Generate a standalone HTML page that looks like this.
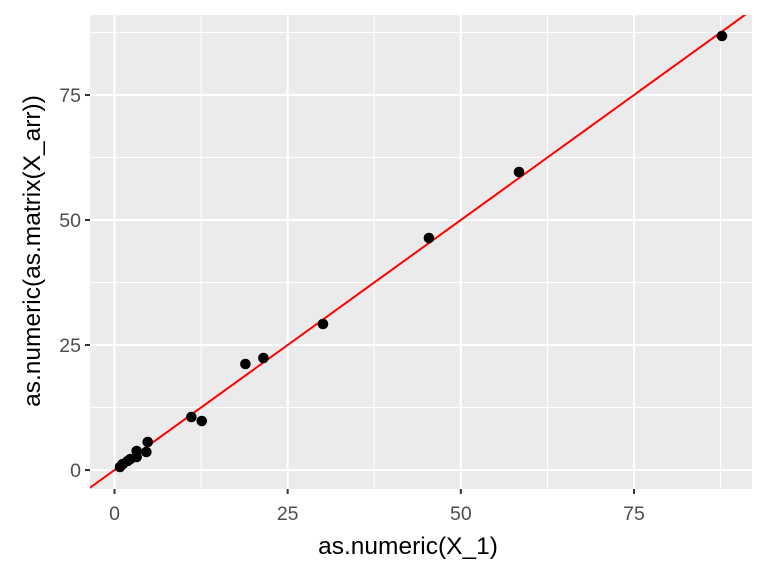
<!DOCTYPE html>
<html><head><meta charset="utf-8"><style>
body{margin:0;background:#fff}
svg text{font-family:"Liberation Sans",sans-serif}
</style></head><body>
<svg id="chart" width="768" height="576" xmlns="http://www.w3.org/2000/svg">
<rect x="90" y="15" width="662" height="474" fill="#ebebeb"/>
<g id="grid"></g><g id="marks"></g><g id="axes"></g>
<text x="408" y="554" font-size="24.5" text-anchor="middle" fill="#000">as.numeric(X_1)</text>
<text transform="translate(40,251) rotate(-90)" font-size="24.5" text-anchor="middle" fill="#000">as.numeric(as.matrix(X_arr))</text>
</svg>
<script>
const xVals=[0.8,1.2,1.9,2.3,3.2,3.2,4.6,4.8,11.1,12.6,18.9,21.5,30.1,45.4,58.4,87.7];
const yVals=[0.6,1.2,1.8,2.2,2.6,3.8,3.6,5.6,10.6,9.8,21.2,22.4,29.2,46.4,59.6,86.8];
const xTicks=[0,25,50,75];
const yTicks=[0,25,50,75];
const lineIntercept=0, lineSlope=1;
const NS="http://www.w3.org/2000/svg";
const X0=90,X1=752,Y0=15,Y1=489;
const xs=v=>114.5+v*(634-114.5)/75;
const ys=v=>470-v*(470-95)/75;
const xinv=p=>(p-114.5)*75/(634-114.5);
function mk(t,a,p){const e=document.createElementNS(NS,t);for(const k in a)e.setAttribute(k,a[k]);p.appendChild(e);return e;}
const grid=document.getElementById('grid'),marks=document.getElementById('marks'),axes=document.getElementById('axes');
const step=12.5;
for(let v=-12.5;v<=100;v+=step){
  const major=(v%25===0);
  const px=xs(v);
  if(px>X0&&px<X1){const l=mk('line',{x1:px,x2:px,y1:Y0,y2:Y1,stroke:'#fff','stroke-width':major?2.1:1},grid);
  
  }
  const py=ys(v);
  if(py>Y0&&py<Y1){const l=mk('line',{x1:X0,x2:X1,y1:py,y2:py,stroke:'#fff','stroke-width':major?2.1:1},grid);
  
  }
}
const cp=mk('clipPath',{id:'cp'},document.getElementById('chart'));
mk('rect',{x:X0,y:Y0,width:X1-X0,height:Y1-Y0},cp);
const ln=mk('line',{x1:X0,y1:ys(lineIntercept+lineSlope*xinv(X0)),x2:X1,y2:ys(lineIntercept+lineSlope*xinv(X1)),stroke:'#ff0000','stroke-width':2,'clip-path':'url(#cp)'},marks);


xVals.forEach((v,i)=>{const c=mk('circle',{cx:xs(v),cy:ys(yVals[i]),r:5.3,fill:'#000'},marks);

});
xTicks.forEach(v=>{const px=xs(v);
const t=mk('line',{x1:px,x2:px,y1:Y1,y2:Y1+5,stroke:'#333','stroke-width':2},axes);


const tx=mk('text',{x:px,y:Y1+31,'font-size':19.5,'text-anchor':'middle',fill:'#4d4d4d'},axes);tx.textContent=v;

});
yTicks.forEach(v=>{const py=ys(v);
const t=mk('line',{x1:X0-5,x2:X0,y1:py,y2:py,stroke:'#333','stroke-width':2},axes);


const tx=mk('text',{x:X0-9,y:py+7,'font-size':19.5,'text-anchor':'end',fill:'#4d4d4d'},axes);tx.textContent=v;

});
</script>
</body></html>
